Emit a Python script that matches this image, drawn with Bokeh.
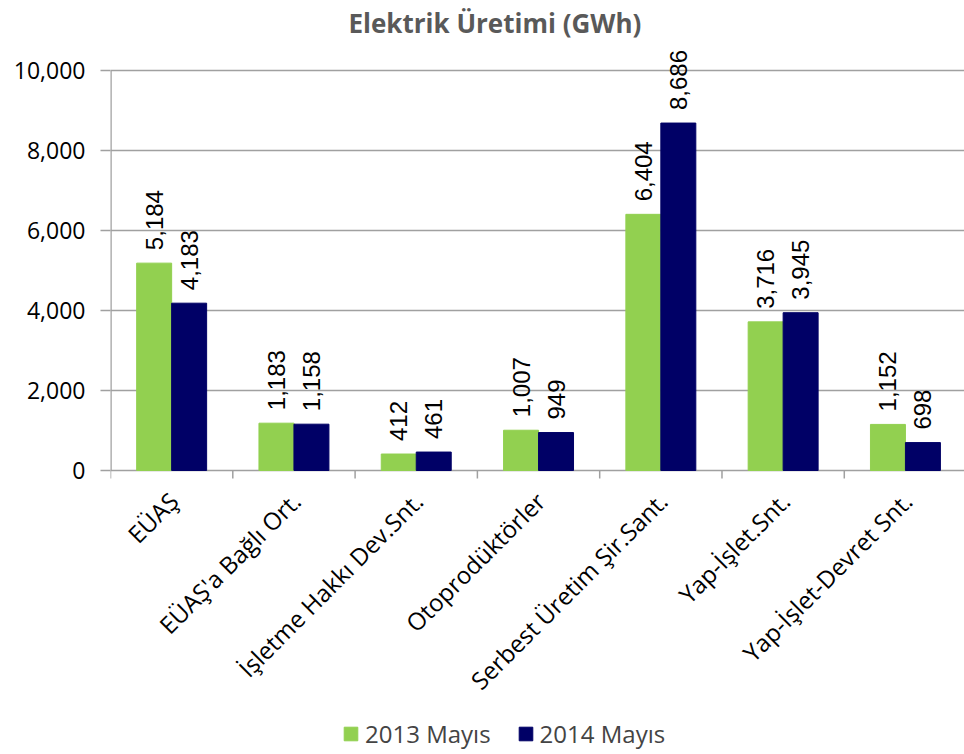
import math
from bokeh.plotting import figure
from bokeh.models import (FixedTicker, NumeralTickFormatter, ColumnDataSource,
                          Legend, LegendItem, Range1d)
from bokeh.embed import file_html
from bokeh.resources import INLINE
from bokeh.core.properties import value

categories = ["EÜAŞ", "EÜAŞ'a Bağlı Ort.", "İşletme Hakkı Dev.Snt.",
              "Otoprodüktörler", "Serbest Üretim Şir.Sant.", "Yap-İşlet.Snt.",
              "Yap-İşlet-Devret Snt."]
series_names = ["2013 Mayıs", "2014 Mayıs"]
values_2013 = [5184, 1183, 412, 1007, 6404, 3716, 1152]
values_2014 = [4183, 1158, 461, 949, 8686, 3945, 698]
y_ticks = [0, 2000, 4000, 6000, 8000, 10000]

GREEN = "#92D050"
NAVY = "#000066"
GRID = "#A0A0A0"
FONT = "Open Sans"

n = len(categories)
centers = [i + 0.5 for i in range(n)]
bounds = list(range(n + 1))
bw = 0.286

# frame: x 110..964, y 40..754 ; value 0 sits at y 470 (40 px per 1000)
p = figure(width=964, height=754, output_backend="svg", toolbar_location=None,
           x_range=Range1d(0, 6.983), y_range=Range1d(-7100, 10750),
           x_axis_location=None,
           min_border_left=110, min_border_right=0, min_border_top=40,
           min_border_bottom=0, title="Elektrik Üretimi (GWh)")
p.title.align = "left"
p.title.offset = 238
p.title.text_font = FONT
p.title.text_font_size = "26px"
p.title.text_font_style = "bold"
p.title.text_color = "#595959"
p.title.standoff = 0
p.outline_line_color = None
p.background_fill_color = "white"

src1 = ColumnDataSource(dict(x=[c - bw / 2 for c in centers], top=values_2013,
                             lbl=[f"{v:,}" for v in values_2013]))
src2 = ColumnDataSource(dict(x=[c + bw / 2 for c in centers], top=values_2014,
                             lbl=[f"{v:,}" for v in values_2014]))

r1 = p.vbar(x="x", top="top", bottom=0, width=bw, source=src1,
            fill_color=GREEN, line_color=GREEN)
r2 = p.vbar(x="x", top="top", bottom=0, width=bw, source=src2,
            fill_color=NAVY, line_color=NAVY)

for s in (src1, src2):
    p.text(x="x", y="top", text="lbl", source=s, angle=math.pi / 2,
           text_align="left", text_baseline="middle", y_offset=-13,
           text_font=value("Liberation Sans"), text_font_size="24px",
           text_color="black")

# y axis line (from 0 to the top tick)
p.segment(x0=[0], y0=[y_ticks[0]], x1=[0], y1=[y_ticks[-1]],
          line_color=GRID, line_width=2.5)

# category axis: tick marks at category boundaries, rotated labels
p.segment(x0=bounds, y0=[0] * len(bounds), x1=bounds, y1=[-200] * len(bounds),
          line_color=GRID, line_width=1.5)
cat_src = ColumnDataSource(dict(x=centers, y=[0] * n, t=categories))
p.text(x="x", y="y", text="t", source=cat_src, angle=math.pi / 4,
       text_align="right", text_baseline="alphabetic", x_offset=2, y_offset=26,
       text_font=value(FONT), text_font_size="24px", text_color="black")

ya = p.yaxis[0]
ya.ticker = FixedTicker(ticks=y_ticks)
ya.formatter = NumeralTickFormatter(format="0,0")
ya.axis_line_color = None
ya.major_tick_out = 10
ya.major_tick_in = 0
ya.major_tick_line_color = GRID
ya.major_tick_line_width = 1.5
ya.minor_tick_line_color = None
ya.major_label_text_font = FONT
ya.major_label_text_font_size = "23px"
ya.major_label_text_color = "black"
ya.major_label_standoff = 15

p.xgrid.grid_line_color = None
p.ygrid.ticker = FixedTicker(ticks=y_ticks)
p.ygrid.grid_line_color = GRID
p.ygrid.grid_line_width = 1.5

legend = Legend(items=[LegendItem(label=series_names[0], renderers=[r1]),
                       LegendItem(label=series_names[1], renderers=[r2])],
                orientation="horizontal", location=(232, 4))
legend.border_line_color = None
legend.background_fill_alpha = 0
legend.label_text_font = FONT
legend.label_text_font_size = "24px"
legend.glyph_width = 17
legend.glyph_height = 17
legend.spacing = 26
legend.label_standoff = 6
legend.padding = 0
legend.margin = 0
p.add_layout(legend, "center")

open("out.html", "w").write(file_html(p, INLINE))
